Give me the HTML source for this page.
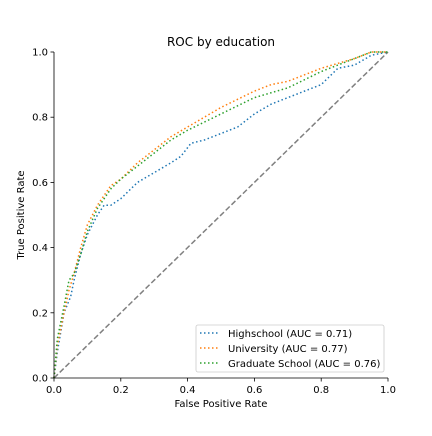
<!DOCTYPE html>
<html><head><meta charset="utf-8"><style>
body{margin:0;background:#fff;font-family:"DejaVu Sans","Liberation Sans",sans-serif;}
svg text{font-family:"DejaVu Sans","Liberation Sans",sans-serif;fill:#000;}
</style></head><body>
<svg id="chart" width="432" height="432" xmlns="http://www.w3.org/2000/svg">
<text x="221" y="46" font-size="12" text-anchor="middle">ROC by education</text>
<g id="plot"></g>
<text x="221" y="407" font-size="10" text-anchor="middle">False Positive Rate</text>
<text x="0" y="0" font-size="10" text-anchor="middle" transform="translate(24,215) rotate(-90)">True Positive Rate</text>
<g>
<rect x="196" y="325" width="188" height="47" rx="2" fill="#fff" stroke="#ccc" stroke-width="0.8"/>
<line x1="200" y1="333" x2="220" y2="333" stroke="#1f77b4" stroke-width="1.5" stroke-dasharray="1.5,2.5"/>
<text x="228" y="337" font-size="10">Highschool (AUC = 0.71)</text>
<line x1="200" y1="348" x2="220" y2="348" stroke="#ff7f0e" stroke-width="1.5" stroke-dasharray="1.5,2.5"/>
<text x="228" y="352" font-size="10">University (AUC = 0.77)</text>
<line x1="200" y1="363" x2="220" y2="363" stroke="#2ca02c" stroke-width="1.5" stroke-dasharray="1.5,2.5"/>
<text x="228" y="367" font-size="10">Graduate School (AUC = 0.76)</text>
</g>
</svg>
<script>
const ticks=[0,0.2,0.4,0.6,0.8,1.0];
const tickLabels=["0.0","0.2","0.4","0.6","0.8","1.0"];
const hsFpr=[0,0.01,0.03,0.05,0.06,0.08,0.1,0.13,0.15,0.17,0.2,0.23,0.25,0.3,0.35,0.38,0.41,0.45,0.5,0.55,0.6,0.65,0.7,0.75,0.8,0.85,0.9,0.95,1];
const hsTpr=[0,0.08,0.2,0.25,0.3,0.38,0.44,0.5,0.53,0.53,0.55,0.58,0.6,0.63,0.66,0.68,0.72,0.73,0.75,0.77,0.81,0.84,0.86,0.88,0.9,0.95,0.96,0.99,1];
const uniFpr=[0,0.01,0.03,0.045,0.06,0.08,0.1,0.13,0.17,0.2,0.25,0.3,0.35,0.4,0.5,0.6,0.65,0.7,0.8,0.9,0.95,1];
const uniTpr=[0,0.1,0.2,0.27,0.32,0.4,0.47,0.53,0.59,0.61,0.66,0.7,0.74,0.77,0.83,0.88,0.9,0.91,0.95,0.98,1,1];
const gradFpr=[0,0.01,0.03,0.045,0.06,0.08,0.1,0.13,0.17,0.2,0.25,0.3,0.35,0.4,0.5,0.6,0.65,0.7,0.8,0.9,0.95,1];
const gradTpr=[0,0.12,0.22,0.3,0.32,0.38,0.45,0.52,0.58,0.61,0.65,0.69,0.73,0.76,0.81,0.86,0.875,0.89,0.94,0.98,1,1];
const X0=54,X1=388,Y0=378,Y1=52;
const sx=v=>X0+v*(X1-X0), sy=v=>Y0-v*(Y0-Y1);
const NS="http://www.w3.org/2000/svg";
const g=document.getElementById('plot');
function mk(t,a){const e=document.createElementNS(NS,t);for(const k in a)e.setAttribute(k,a[k]);g.appendChild(e);return e;}
const diag=mk('line',{x1:sx(0),y1:sy(0),x2:sx(1),y2:sy(1),stroke:'#808080','stroke-width':1.5,'stroke-dasharray':'5.5,2.5'});


function series(fx,ty,c,name){
 const p=mk('polyline',{points:fx.map((v,i)=>sx(v)+','+sy(ty[i])).join(' '),fill:'none',stroke:c,'stroke-width':1.5,'stroke-dasharray':'1.5,2.5'});
 
 
}
series(hsFpr,hsTpr,'#1f77b4','highschool-roc-line');
series(uniFpr,uniTpr,'#ff7f0e','university-roc-line');
series(gradFpr,gradTpr,'#2ca02c','graduate-roc-line');
const ax=mk('path',{d:`M${X0},${Y1}V${Y0}H${X1}`,fill:'none',stroke:'#000','stroke-width':0.8});


ticks.forEach((t,i)=>{
 mk('line',{x1:sx(t),y1:Y0,x2:sx(t),y2:Y0+3.5,stroke:'#000','stroke-width':0.8});
 const xt=mk('text',{x:sx(t),y:Y0+15,'font-size':10,'text-anchor':'middle'});xt.textContent=tickLabels[i];
 
 
 mk('line',{x1:X0-3.5,y1:sy(t),x2:X0,y2:sy(t),stroke:'#000','stroke-width':0.8});
 const yt=mk('text',{x:X0-6,y:sy(t)+3.5,'font-size':10,'text-anchor':'end'});yt.textContent=tickLabels[i];
 
 
});
</script>
</body></html>
